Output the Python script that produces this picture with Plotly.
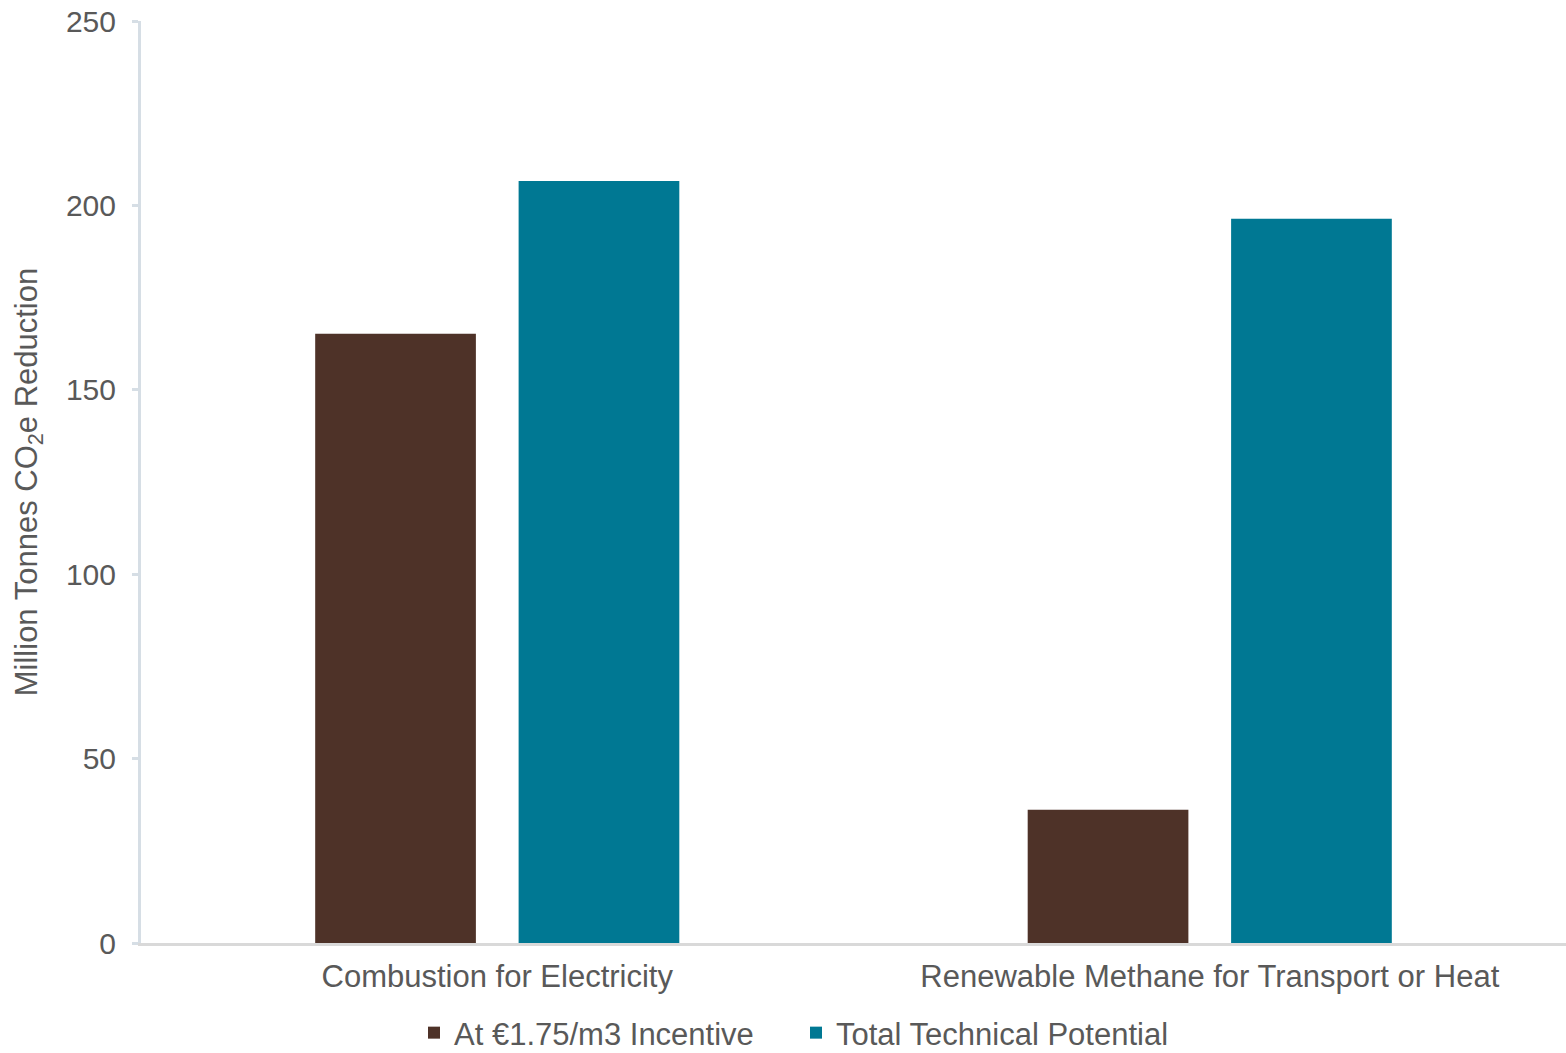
import plotly.graph_objects as go

categories = ["Combustion for Electricity", "Renewable Methane for Transport or Heat"]
incentive = [165.2, 36.1]
total_potential = [206.6, 196.4]
series_names = ["At €1.75/m3 Incentive", "Total Technical Potential"]
y_ticks = [0, 50, 100, 150, 200, 250]

FONT = "Liberation Sans, Arial, Helvetica, sans-serif"
TEXT = "#595959"

fig = go.Figure()
fig.add_trace(go.Bar(x=categories, y=incentive, name=series_names[0],
                     marker=dict(color="#4E3228", line=dict(width=0))))
fig.add_trace(go.Bar(x=categories, y=total_potential, name=series_names[1],
                     marker=dict(color="#007893", line=dict(width=0))))

fig.update_layout(
    width=1566, height=1053,
    margin=dict(l=141, r=0, t=21, b=110, autoexpand=False),
    paper_bgcolor="white", plot_bgcolor="white",
    barmode="group", bargap=0.429, bargroupgap=0.21,
    font=dict(family=FONT, size=29, color=TEXT),
    showlegend=True,
    legend=dict(orientation="h", x=(426 - 141 - 12) / 1425, xanchor="left",
                y=-(1033 - 943) / 922, yanchor="middle",
                font=dict(size=31, color=TEXT), itemwidth=30,
                entrywidth=337, entrywidthmode="pixels",
                traceorder="normal", tracegroupgap=0),
)
fig.update_xaxes(
    showline=True, linecolor="#D9D9D9", linewidth=3,
    showgrid=False, ticks="", tickfont=dict(size=31, color=TEXT),
    ticklabelstandoff=4,
)
fig.update_yaxes(
    range=[0, 250], tickvals=y_ticks, showgrid=False, zeroline=False,
    showline=True, linecolor="#D6DEE5", linewidth=3,
    ticks="outside", ticklen=6, tickcolor="#D6DEE5", tickwidth=3,
    tickfont=dict(size=30, color=TEXT), ticklabelstandoff=10,
    title=dict(text="Million Tonnes CO<sub>2</sub>e Reduction", font=dict(size=31, color=TEXT), standoff=20),
)

fig.write_html("out.html")
